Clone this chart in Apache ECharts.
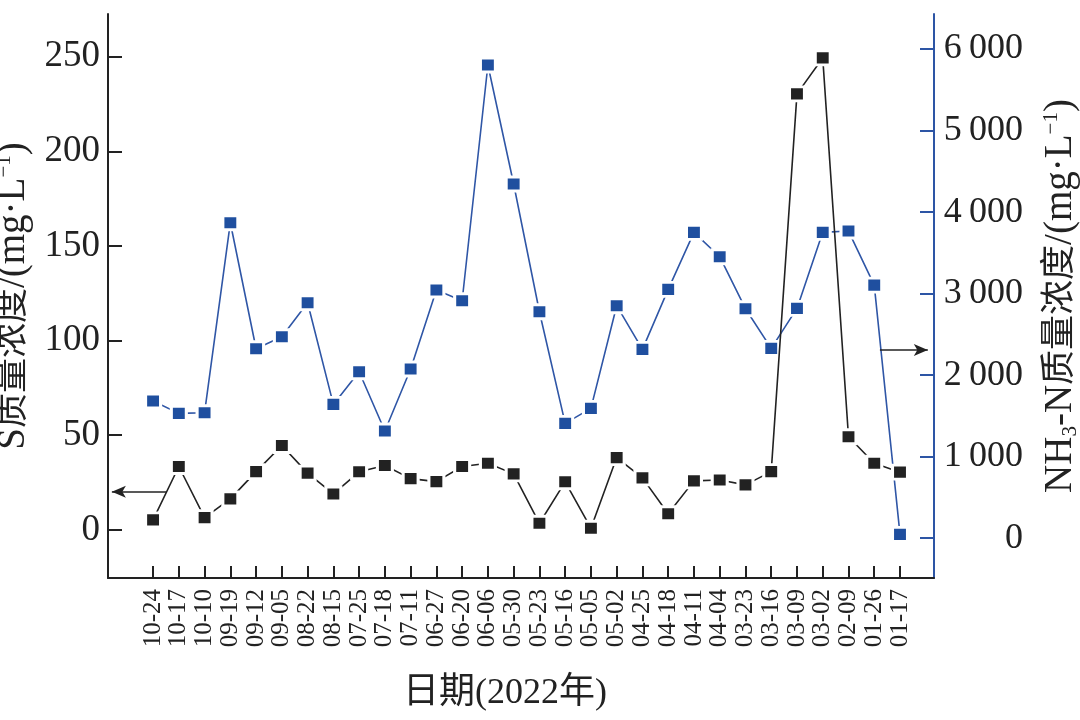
<!DOCTYPE html>
<html>
<head>
<meta charset="utf-8">
<script src="https://cdn.jsdelivr.net/npm/echarts@6/dist/echarts.min.js"></script>
<style>html,body{margin:0;padding:0;background:#fff;}#c{width:1080px;height:720px;}</style>
</head>
<body>
<div id="c"></div>
<script>
const categories = ['10-24','10-17','10-10','09-19','09-12','09-05','08-22','08-15','07-25','07-18','07-11','06-27','06-20','06-06','05-30','05-23','05-16','05-05','05-02','04-25','04-18','04-11','04-04','03-23','03-16','03-09','03-02','02-09','01-26','01-17'];
const sValues = [5.3,33.5,6.5,16.4,30.8,44.6,30,19,30.7,34,27.1,25.5,33.5,35.2,29.6,3.5,25.4,0.9,38.2,27.5,8.5,25.9,26.4,23.8,30.8,230.3,249.3,49.2,35.2,30.5];
const nh3Values = [1681,1530,1538,3869,2323,2470,2887,1640,2041,1313,2074,3043,2912,5804,4344,2777,1407,1591,2851,2315,3051,3751,3452,2814,2327,2818,3751,3767,3104,45];
const leftTicks = [0,50,100,150,200,250];
const rightTicks = [0,1000,2000,3000,4000,5000,6000];

const serif = '"Liberation Serif","DejaVu Serif","Noto Sans CJK SC",serif';
const idx = categories.map((c,i)=>i);
const chart = echarts.init(document.getElementById('c'));
const blue = '#1f4f9f';
const black = '#222222';
const nameRich = {
  a:{fontFamily:serif,fontSize:35,color:black,lineHeight:40},
  l:{fontFamily:serif,fontSize:39,color:black,lineHeight:40},
  sub:{fontFamily:serif,fontSize:21,color:black,verticalAlign:'bottom',lineHeight:40},
  sup:{fontFamily:serif,fontSize:21,color:black,verticalAlign:'top',lineHeight:40}
};

chart.setOption({
  animation:false,
  backgroundColor:'#fff',
  grid:{left:108,right:146,top:14,bottom:142,containLabel:false,outerBoundsMode:'none'},
  xAxis:{
    type:'value', min:-1.75, max:30.32,
    splitLine:{show:false},
    axisLine:{show:true,onZero:false,lineStyle:{color:black,width:2}},
    axisTick:{show:true,inside:true,length:12,customValues:idx,lineStyle:{color:black,width:2}},
    axisLabel:{customValues:idx,rotate:90,margin:11,color:black,fontFamily:serif,fontSize:25,
      formatter:v=>categories[Math.round(v)]},
    name:'日期(2022年)', nameLocation:'middle', nameGap:98,
    nameTextStyle:{fontFamily:serif,fontSize:36,color:black,padding:[0,32,0,0]}
  },
  yAxis:[{
    type:'value', min:-25.4, max:272.5, position:'left',
    splitLine:{show:false},
    axisLine:{show:true,onZero:false,lineStyle:{color:black,width:2}},
    axisTick:{show:true,inside:true,length:14,customValues:leftTicks,lineStyle:{color:black,width:2}},
    axisLabel:{customValues:leftTicks,margin:8,color:black,fontFamily:serif,fontSize:37},
    name:'{l|S}{a|质量浓度}{l|/(mg·L}{sup|−1}{l|)}', nameLocation:'middle', nameRotate:90, nameGap:67,
    nameTextStyle:{rich:nameRich}
  },{
    type:'value', min:-490, max:6430, position:'right',
    splitLine:{show:false},
    axisLine:{show:true,onZero:false,lineStyle:{color:'#2d55a5',width:2}},
    axisTick:{show:true,inside:true,length:14,customValues:rightTicks,lineStyle:{color:'#2d55a5',width:2}},
    axisLabel:{customValues:rightTicks,margin:89,align:'right',color:black,fontFamily:serif,fontSize:36,
      formatter:v=>v===0?'0':(v/1000)+'\u2009000'},
    name:'{l|NH}{sub|3}{l|-N}{a|质量浓度}{l|/(mg·L}{sup|−1}{l|)}', nameLocation:'middle', nameRotate:90, nameGap:107,
    nameTextStyle:{rich:nameRich}
  }],
  series:[{
    type:'line', yAxisIndex:1, z:2,
    data:nh3Values.map((v,i)=>[i,v]),
    symbol:'rect', symbolSize:[15,14],
    lineStyle:{color:'#2f56a6',width:1.6},
    itemStyle:{color:blue,borderColor:'#fff',borderWidth:3},
    markLine:{silent:true,symbol:['none','arrow'],symbolSize:[9,14],label:{show:false},
      lineStyle:{color:black,width:1.6,type:'solid'},
      data:[[{coord:[28.22,2307]},{coord:[30.08,2307]}]]}
  },{
    type:'line', yAxisIndex:0, z:3,
    data:sValues.map((v,i)=>[i,v]),
    symbol:'rect', symbolSize:[15,14],
    lineStyle:{color:black,width:1.6},
    itemStyle:{color:black,borderColor:'#fff',borderWidth:3},
    markLine:{silent:true,symbol:['none','arrow'],symbolSize:[9,14],label:{show:false},
      lineStyle:{color:black,width:1.6,type:'solid'},
      data:[[{coord:[0.53,20.1]},{coord:[-1.6,20.1]}]]}
  }]
});
</script>
</body>
</html>
